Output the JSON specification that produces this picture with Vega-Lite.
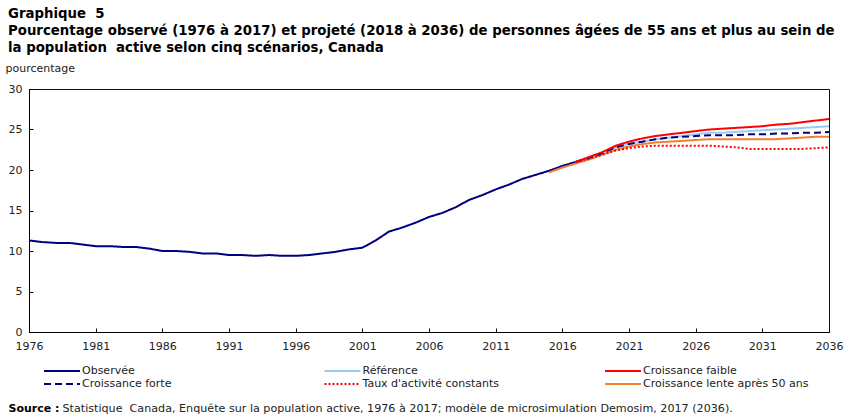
{
  "$schema": "https://vega.github.io/schema/vega-lite/v6.json",
  "width": 800,
  "height": 243,
  "autosize": {"type": "none"},
  "padding": {"left": 29, "top": 89, "right": 22, "bottom": 85},
  "background": "white",
  "config": {
    "font": "DejaVu Sans",
    "view": {"stroke": "#000080", "strokeWidth": 1},
    "axis": {"grid": false, "labelFont": "DejaVu Sans", "labelFontSize": 11, "labelColor": "#222222", "titleFont": "DejaVu Sans", "titleFontSize": 11, "titleFontWeight": "normal", "titleColor": "#222222", "domainColor": "black", "tickColor": "black"}
  },
  "title": {
    "text": ["Graphique\u00a0 5", "Pourcentage observé (1976 à 2017) et projeté (2018 à 2036) de personnes âgées de 55 ans et plus au sein de", "la population\u00a0 active selon cinq scénarios, Canada"],
    "anchor": "start",
    "frame": "group",
    "font": "DejaVu Sans",
    "fontSize": 13.3,
    "fontWeight": "bold",
    "color": "black",
    "lineHeight": 17,
    "dx": -21,
    "offset": 8
  },
  "data": {
    "values": [
      {"year": 1976, "value": 11.3, "series": "Observée"},
      {"year": 1977, "value": 11.1, "series": "Observée"},
      {"year": 1978, "value": 11.0, "series": "Observée"},
      {"year": 1979, "value": 11.0, "series": "Observée"},
      {"year": 1980, "value": 10.8, "series": "Observée"},
      {"year": 1981, "value": 10.6, "series": "Observée"},
      {"year": 1982, "value": 10.6, "series": "Observée"},
      {"year": 1983, "value": 10.5, "series": "Observée"},
      {"year": 1984, "value": 10.5, "series": "Observée"},
      {"year": 1985, "value": 10.3, "series": "Observée"},
      {"year": 1986, "value": 10.0, "series": "Observée"},
      {"year": 1987, "value": 10.0, "series": "Observée"},
      {"year": 1988, "value": 9.9, "series": "Observée"},
      {"year": 1989, "value": 9.7, "series": "Observée"},
      {"year": 1990, "value": 9.7, "series": "Observée"},
      {"year": 1991, "value": 9.5, "series": "Observée"},
      {"year": 1992, "value": 9.5, "series": "Observée"},
      {"year": 1993, "value": 9.4, "series": "Observée"},
      {"year": 1994, "value": 9.5, "series": "Observée"},
      {"year": 1995, "value": 9.4, "series": "Observée"},
      {"year": 1996, "value": 9.4, "series": "Observée"},
      {"year": 1997, "value": 9.5, "series": "Observée"},
      {"year": 1998, "value": 9.7, "series": "Observée"},
      {"year": 1999, "value": 9.9, "series": "Observée"},
      {"year": 2000, "value": 10.2, "series": "Observée"},
      {"year": 2001, "value": 10.4, "series": "Observée"},
      {"year": 2002, "value": 11.3, "series": "Observée"},
      {"year": 2003, "value": 12.4, "series": "Observée"},
      {"year": 2004, "value": 12.9, "series": "Observée"},
      {"year": 2005, "value": 13.5, "series": "Observée"},
      {"year": 2006, "value": 14.2, "series": "Observée"},
      {"year": 2007, "value": 14.7, "series": "Observée"},
      {"year": 2008, "value": 15.4, "series": "Observée"},
      {"year": 2009, "value": 16.3, "series": "Observée"},
      {"year": 2010, "value": 16.9, "series": "Observée"},
      {"year": 2011, "value": 17.6, "series": "Observée"},
      {"year": 2012, "value": 18.2, "series": "Observée"},
      {"year": 2013, "value": 18.9, "series": "Observée"},
      {"year": 2014, "value": 19.4, "series": "Observée"},
      {"year": 2015, "value": 19.9, "series": "Observée"},
      {"year": 2016, "value": 20.5, "series": "Observée"},
      {"year": 2017, "value": 21.0, "series": "Observée"},

      {"year": 2015, "value": 19.7, "series": "Croissance lente après 50 ans"},
      {"year": 2016, "value": 20.3, "series": "Croissance lente après 50 ans"},
      {"year": 2017, "value": 20.8, "series": "Croissance lente après 50 ans"},
      {"year": 2018, "value": 21.3, "series": "Croissance lente après 50 ans"},
      {"year": 2019, "value": 21.9, "series": "Croissance lente après 50 ans"},
      {"year": 2020, "value": 22.5, "series": "Croissance lente après 50 ans"},
      {"year": 2021, "value": 22.9, "series": "Croissance lente après 50 ans"},
      {"year": 2022, "value": 23.2, "series": "Croissance lente après 50 ans"},
      {"year": 2023, "value": 23.4, "series": "Croissance lente après 50 ans"},
      {"year": 2024, "value": 23.5, "series": "Croissance lente après 50 ans"},
      {"year": 2025, "value": 23.6, "series": "Croissance lente après 50 ans"},
      {"year": 2026, "value": 23.7, "series": "Croissance lente après 50 ans"},
      {"year": 2027, "value": 23.8, "series": "Croissance lente après 50 ans"},
      {"year": 2028, "value": 23.8, "series": "Croissance lente après 50 ans"},
      {"year": 2029, "value": 23.8, "series": "Croissance lente après 50 ans"},
      {"year": 2030, "value": 23.8, "series": "Croissance lente après 50 ans"},
      {"year": 2031, "value": 23.8, "series": "Croissance lente après 50 ans"},
      {"year": 2032, "value": 23.8, "series": "Croissance lente après 50 ans"},
      {"year": 2033, "value": 23.9, "series": "Croissance lente après 50 ans"},
      {"year": 2034, "value": 24.0, "series": "Croissance lente après 50 ans"},
      {"year": 2035, "value": 24.1, "series": "Croissance lente après 50 ans"},
      {"year": 2036, "value": 24.1, "series": "Croissance lente après 50 ans"},

      {"year": 2017, "value": 21.0, "series": "Référence"},
      {"year": 2018, "value": 21.5, "series": "Référence"},
      {"year": 2019, "value": 22.1, "series": "Référence"},
      {"year": 2020, "value": 22.8, "series": "Référence"},
      {"year": 2021, "value": 23.2, "series": "Référence"},
      {"year": 2022, "value": 23.5, "series": "Référence"},
      {"year": 2023, "value": 23.8, "series": "Référence"},
      {"year": 2024, "value": 24.0, "series": "Référence"},
      {"year": 2025, "value": 24.2, "series": "Référence"},
      {"year": 2026, "value": 24.4, "series": "Référence"},
      {"year": 2027, "value": 24.6, "series": "Référence"},
      {"year": 2028, "value": 24.6, "series": "Référence"},
      {"year": 2029, "value": 24.7, "series": "Référence"},
      {"year": 2030, "value": 24.8, "series": "Référence"},
      {"year": 2031, "value": 24.9, "series": "Référence"},
      {"year": 2032, "value": 25.0, "series": "Référence"},
      {"year": 2033, "value": 25.1, "series": "Référence"},
      {"year": 2034, "value": 25.2, "series": "Référence"},
      {"year": 2035, "value": 25.3, "series": "Référence"},
      {"year": 2036, "value": 25.4, "series": "Référence"},

      {"year": 2017, "value": 21.0, "series": "Taux d'activité constants"},
      {"year": 2018, "value": 21.4, "series": "Taux d'activité constants"},
      {"year": 2019, "value": 21.9, "series": "Taux d'activité constants"},
      {"year": 2020, "value": 22.4, "series": "Taux d'activité constants"},
      {"year": 2021, "value": 22.7, "series": "Taux d'activité constants"},
      {"year": 2022, "value": 22.9, "series": "Taux d'activité constants"},
      {"year": 2023, "value": 23.0, "series": "Taux d'activité constants"},
      {"year": 2024, "value": 23.0, "series": "Taux d'activité constants"},
      {"year": 2025, "value": 23.0, "series": "Taux d'activité constants"},
      {"year": 2026, "value": 23.0, "series": "Taux d'activité constants"},
      {"year": 2027, "value": 23.0, "series": "Taux d'activité constants"},
      {"year": 2028, "value": 22.9, "series": "Taux d'activité constants"},
      {"year": 2029, "value": 22.8, "series": "Taux d'activité constants"},
      {"year": 2030, "value": 22.6, "series": "Taux d'activité constants"},
      {"year": 2031, "value": 22.6, "series": "Taux d'activité constants"},
      {"year": 2032, "value": 22.6, "series": "Taux d'activité constants"},
      {"year": 2033, "value": 22.6, "series": "Taux d'activité constants"},
      {"year": 2034, "value": 22.6, "series": "Taux d'activité constants"},
      {"year": 2035, "value": 22.7, "series": "Taux d'activité constants"},
      {"year": 2036, "value": 22.8, "series": "Taux d'activité constants"},

      {"year": 2017, "value": 21.0, "series": "Croissance forte"},
      {"year": 2018, "value": 21.5, "series": "Croissance forte"},
      {"year": 2019, "value": 22.1, "series": "Croissance forte"},
      {"year": 2020, "value": 22.8, "series": "Croissance forte"},
      {"year": 2021, "value": 23.2, "series": "Croissance forte"},
      {"year": 2022, "value": 23.5, "series": "Croissance forte"},
      {"year": 2023, "value": 23.8, "series": "Croissance forte"},
      {"year": 2024, "value": 24.0, "series": "Croissance forte"},
      {"year": 2025, "value": 24.1, "series": "Croissance forte"},
      {"year": 2026, "value": 24.2, "series": "Croissance forte"},
      {"year": 2027, "value": 24.3, "series": "Croissance forte"},
      {"year": 2028, "value": 24.3, "series": "Croissance forte"},
      {"year": 2029, "value": 24.3, "series": "Croissance forte"},
      {"year": 2030, "value": 24.4, "series": "Croissance forte"},
      {"year": 2031, "value": 24.4, "series": "Croissance forte"},
      {"year": 2032, "value": 24.5, "series": "Croissance forte"},
      {"year": 2033, "value": 24.5, "series": "Croissance forte"},
      {"year": 2034, "value": 24.6, "series": "Croissance forte"},
      {"year": 2035, "value": 24.6, "series": "Croissance forte"},
      {"year": 2036, "value": 24.7, "series": "Croissance forte"},

      {"year": 2017, "value": 21.0, "series": "Croissance faible"},
      {"year": 2018, "value": 21.6, "series": "Croissance faible"},
      {"year": 2019, "value": 22.2, "series": "Croissance faible"},
      {"year": 2020, "value": 23.0, "series": "Croissance faible"},
      {"year": 2021, "value": 23.5, "series": "Croissance faible"},
      {"year": 2022, "value": 23.9, "series": "Croissance faible"},
      {"year": 2023, "value": 24.2, "series": "Croissance faible"},
      {"year": 2024, "value": 24.4, "series": "Croissance faible"},
      {"year": 2025, "value": 24.6, "series": "Croissance faible"},
      {"year": 2026, "value": 24.8, "series": "Croissance faible"},
      {"year": 2027, "value": 25.0, "series": "Croissance faible"},
      {"year": 2028, "value": 25.1, "series": "Croissance faible"},
      {"year": 2029, "value": 25.2, "series": "Croissance faible"},
      {"year": 2030, "value": 25.3, "series": "Croissance faible"},
      {"year": 2031, "value": 25.4, "series": "Croissance faible"},
      {"year": 2032, "value": 25.6, "series": "Croissance faible"},
      {"year": 2033, "value": 25.7, "series": "Croissance faible"},
      {"year": 2034, "value": 25.9, "series": "Croissance faible"},
      {"year": 2035, "value": 26.1, "series": "Croissance faible"},
      {"year": 2036, "value": 26.3, "series": "Croissance faible"}
    ]
  },
  "layer": [
    {
      "transform": [{"filter": "datum.series === 'Observée'"}],
      "mark": {"type": "line", "strokeWidth": 2},
      "encoding": {
        "x": {
          "field": "year", "type": "quantitative",
          "scale": {"domain": [1976, 2036], "nice": false, "zero": false},
          "axis": {
            "values": [1976, 1981, 1986, 1991, 1996, 2001, 2006, 2011, 2016, 2021, 2026, 2031, 2036],
            "format": "d", "tickSize": -4, "labelPadding": 12, "labelFlush": false, "labelOverlap": false,
            "title": "Statistique\u00a0 Canada, Enquête sur la population active, 1976 à 2017; modèle de microsimulation Demosim, 2017 (2036).",
            "titleX": 33, "titleY": 76, "titleAlign": "left", "titleAnchor": null, "titleBaseline": "middle", "titleFontSize": 11.15
          }
        },
        "y": {
          "field": "value", "type": "quantitative",
          "scale": {"domain": [0, 30], "nice": false},
          "axis": {
            "values": [0, 5, 10, 15, 20, 25, 30], "tickSize": -4, "labelPadding": 11,
            "title": "pourcentage", "titleAngle": 0, "titleX": -24, "titleY": -21, "titleAlign": "left", "titleBaseline": "middle", "titleAnchor": null
          }
        },
        "color": {
          "field": "series", "type": "nominal",
          "scale": {
            "domain": ["Observée", "Référence", "Croissance faible", "Croissance forte", "Taux d'activité constants", "Croissance lente après 50 ans"],
            "range": ["#000080", "#99ccf5", "#ff0000", "#000080", "#ff0000", "#f07f30"]
          },
          "legend": {
            "title": null, "orient": "none", "direction": "horizontal", "legendX": 27, "legendY": 276, "columns": 3, "gridAlign": "all", "columnPadding": 72.5, "rowPadding": 2,
            "symbolType": "M-3.6,0H3.6", "symbolSize": 100, "symbolStrokeWidth": 2, "labelOffset": 14,
            "labelFont": "DejaVu Sans", "labelFontSize": 11, "labelColor": "#222222", "labelLimit": 300
          }
        },
        "strokeDash": {
          "field": "series", "type": "nominal",
          "scale": {
            "domain": ["Observée", "Référence", "Croissance faible", "Croissance forte", "Taux d'activité constants", "Croissance lente après 50 ans"],
            "range": [[1, 0], [1, 0], [1, 0], [7, 4], [2, 2], [1, 0]]
          },
          "legend": {
            "title": null, "orient": "none", "direction": "horizontal", "legendX": 27, "legendY": 276, "columns": 3, "gridAlign": "all", "columnPadding": 72.5, "rowPadding": 2,
            "symbolType": "M-3.6,0H3.6", "symbolSize": 100, "symbolStrokeWidth": 2, "labelOffset": 14,
            "labelFont": "DejaVu Sans", "labelFontSize": 11, "labelColor": "#222222", "labelLimit": 300
          }
        }
      }
    },
    {
      "transform": [{"filter": "datum.series !== 'Observée'"}],
      "mark": {"type": "line", "strokeWidth": 2},
      "encoding": {
        "x": {
          "field": "year", "type": "quantitative",
          "scale": {"domain": [1976, 2036], "nice": false, "zero": false},
          "axis": {
            "orient": "top", "domain": false, "ticks": false, "labels": false,
            "title": "Source :", "titleX": -21, "titleY": 319, "titleAlign": "left", "titleAnchor": null, "titleBaseline": "middle",
            "titleFontWeight": "bold", "titleColor": "black"
          }
        },
        "y": {
          "field": "value", "type": "quantitative",
          "scale": {"domain": [0, 30], "nice": false},
          "axis": {
            "values": [0, 5, 10, 15, 20, 25, 30], "tickSize": -4, "labelPadding": 11,
            "title": "pourcentage", "titleAngle": 0, "titleX": -24, "titleY": -21, "titleAlign": "left", "titleBaseline": "middle", "titleAnchor": null
          }
        },
        "color": {"field": "series", "type": "nominal"},
        "strokeDash": {"field": "series", "type": "nominal"}
      }
    }
  ],
  "resolve": {"axis": {"x": "independent"}}
}
